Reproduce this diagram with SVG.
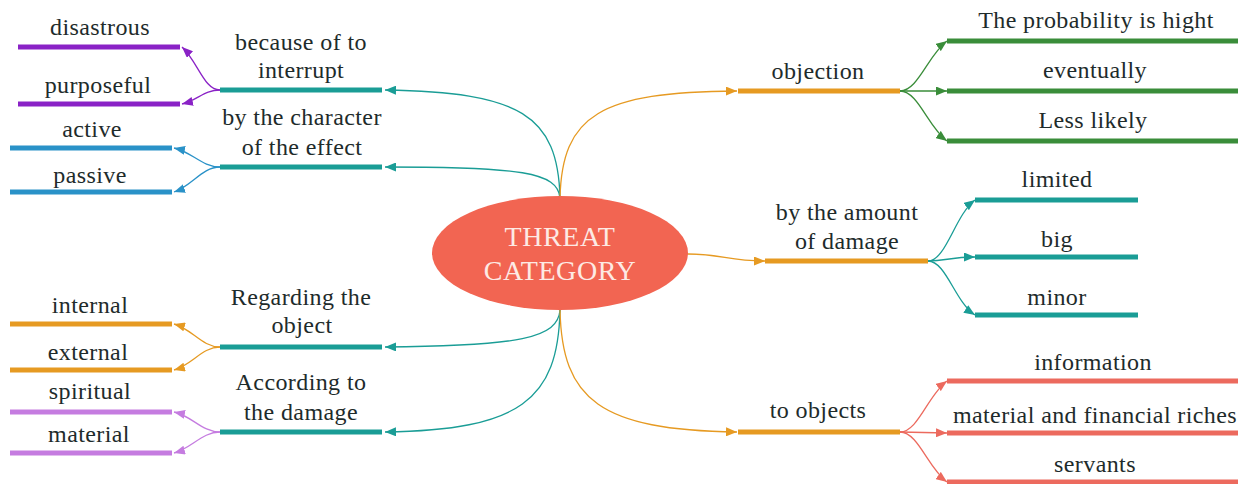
<svg xmlns="http://www.w3.org/2000/svg" width="1238" height="484" viewBox="0 0 1238 484">
<style>
.t{font-family:'Liberation Serif','Times New Roman',serif;font-size:24px;letter-spacing:0.4px;fill:#1e2b2b;text-anchor:middle}
.bar{fill:none;stroke-width:5}
.c{fill:none;stroke-width:1.3}
.teal{stroke:#1a9d96}.orange{stroke:#e69a22}.green{stroke:#3a8d3a}.purple{stroke:#8a22c6}.blue{stroke:#2a92c8}.lilac{stroke:#c57ce0}.red{stroke:#ec6a5e}
</style>
<defs>
<marker id="aTeal" markerUnits="userSpaceOnUse" markerWidth="11" markerHeight="9" refX="11" refY="4.5" orient="auto"><path d="M0,0 L11,4.5 L0,9 z" fill="#1a9d96"/></marker>
<marker id="aOrange" markerUnits="userSpaceOnUse" markerWidth="11" markerHeight="9" refX="11" refY="4.5" orient="auto"><path d="M0,0 L11,4.5 L0,9 z" fill="#e69a22"/></marker>
<marker id="aGreen" markerUnits="userSpaceOnUse" markerWidth="11" markerHeight="9" refX="11" refY="4.5" orient="auto"><path d="M0,0 L11,4.5 L0,9 z" fill="#3a8d3a"/></marker>
<marker id="aPurple" markerUnits="userSpaceOnUse" markerWidth="11" markerHeight="9" refX="11" refY="4.5" orient="auto"><path d="M0,0 L11,4.5 L0,9 z" fill="#8a22c6"/></marker>
<marker id="aBlue" markerUnits="userSpaceOnUse" markerWidth="11" markerHeight="9" refX="11" refY="4.5" orient="auto"><path d="M0,0 L11,4.5 L0,9 z" fill="#2a92c8"/></marker>
<marker id="aLilac" markerUnits="userSpaceOnUse" markerWidth="11" markerHeight="9" refX="11" refY="4.5" orient="auto"><path d="M0,0 L11,4.5 L0,9 z" fill="#c57ce0"/></marker>
<marker id="aRed" markerUnits="userSpaceOnUse" markerWidth="11" markerHeight="9" refX="11" refY="4.5" orient="auto"><path d="M0,0 L11,4.5 L0,9 z" fill="#ec6a5e"/></marker>
</defs>
<rect width="1238" height="484" fill="#ffffff"/>
<g id="connectors">
<path class="c teal" d="M560,198 C558,115 520,92 385,90" marker-end="url(#aTeal)"/>
<path class="c teal" d="M560,198 C558,172 520,167 385,167" marker-end="url(#aTeal)"/>
<path class="c orange" d="M560,198 C562,115 600,92 737,91" marker-end="url(#aOrange)"/>
<path class="c orange" d="M688,254 C722,254 728,261 765,261" marker-end="url(#aOrange)"/>
<path class="c teal" d="M560,310 C558,338 520,346 385,347" marker-end="url(#aTeal)"/>
<path class="c teal" d="M560,310 C558,400 520,430 385,432" marker-end="url(#aTeal)"/>
<path class="c orange" d="M560,310 C562,400 600,430 737,432" marker-end="url(#aOrange)"/>
<path class="c purple" d="M220,90 C204,90 198,62 182,47" marker-end="url(#aPurple)"/>
<path class="c purple" d="M220,90 C204,90 198,100 182,104" marker-end="url(#aPurple)"/>
<path class="c blue" d="M220,167 C202,167 192,152 174,148" marker-end="url(#aBlue)"/>
<path class="c blue" d="M220,167 C202,167 192,186 174,192" marker-end="url(#aBlue)"/>
<path class="c orange" d="M220,347 C202,347 192,329 174,324" marker-end="url(#aOrange)"/>
<path class="c orange" d="M220,347 C202,347 192,365 174,370" marker-end="url(#aOrange)"/>
<path class="c lilac" d="M220,432 C202,432 192,416 174,412" marker-end="url(#aLilac)"/>
<path class="c lilac" d="M220,432 C202,432 192,448 174,453" marker-end="url(#aLilac)"/>
<path class="c green" d="M900,91 C918,91 928,55 947,41" marker-end="url(#aGreen)"/>
<path class="c green" d="M900,91 L947,91" marker-end="url(#aGreen)"/>
<path class="c green" d="M900,91 C918,91 928,127 947,141" marker-end="url(#aGreen)"/>
<path class="c teal" d="M928,261 C946,261 955,215 975,200" marker-end="url(#aTeal)"/>
<path class="c teal" d="M928,261 C946,261 950,257 975,257" marker-end="url(#aTeal)"/>
<path class="c teal" d="M928,261 C946,261 955,302 975,315" marker-end="url(#aTeal)"/>
<path class="c red" d="M900,432 C918,432 928,395 947,381" marker-end="url(#aRed)"/>
<path class="c red" d="M900,432 L947,433" marker-end="url(#aRed)"/>
<path class="c red" d="M900,432 C918,432 928,468 947,482" marker-end="url(#aRed)"/>
</g>
<g id="center">
<ellipse cx="560" cy="253" rx="128" ry="57" fill="#f26552"/>
<text class="t" x="560" y="246" style="fill:#fdeae4;font-size:28px;letter-spacing:0.6px">THREAT</text>
<text class="t" x="560" y="280" style="fill:#fdeae4;font-size:28px;letter-spacing:0.6px">CATEGORY</text>
</g>
<g id="n-interrupt"><line class="bar teal" x1="220" y1="90" x2="382" y2="90"/><text class="t" x="301" y="50">because of to</text><text class="t" x="301" y="78">interrupt</text></g>
<g id="n-character"><line class="bar teal" x1="220" y1="167" x2="382" y2="167"/><text class="t" x="302" y="125">by the character</text><text class="t" x="302" y="155">of the effect</text></g>
<g id="n-regarding"><line class="bar teal" x1="220" y1="347" x2="382" y2="347"/><text class="t" x="301" y="305">Regarding the</text><text class="t" x="302" y="333">object</text></g>
<g id="n-according"><line class="bar teal" x1="220" y1="432" x2="382" y2="432"/><text class="t" x="301" y="390">According to</text><text class="t" x="301" y="420">the damage</text></g>
<g id="n-disastrous"><line class="bar purple" x1="18" y1="47" x2="180" y2="47"/><text class="t" x="100" y="35">disastrous</text></g>
<g id="n-purposeful"><line class="bar purple" x1="18" y1="104" x2="180" y2="104"/><text class="t" x="98" y="93">purposeful</text></g>
<g id="n-active"><line class="bar blue" x1="10" y1="148" x2="172" y2="148"/><text class="t" x="92" y="137">active</text></g>
<g id="n-passive"><line class="bar blue" x1="10" y1="192" x2="172" y2="192"/><text class="t" x="90" y="183">passive</text></g>
<g id="n-internal"><line class="bar orange" x1="10" y1="324" x2="172" y2="324"/><text class="t" x="90" y="313">internal</text></g>
<g id="n-external"><line class="bar orange" x1="10" y1="370" x2="172" y2="370"/><text class="t" x="88" y="360">external</text></g>
<g id="n-spiritual"><line class="bar lilac" x1="10" y1="412" x2="172" y2="412"/><text class="t" x="90" y="399">spiritual</text></g>
<g id="n-material"><line class="bar lilac" x1="10" y1="453" x2="172" y2="453"/><text class="t" x="89" y="442">material</text></g>
<g id="n-objection"><line class="bar orange" x1="738" y1="91" x2="900" y2="91"/><text class="t" x="818" y="79">objection</text></g>
<g id="n-amount"><line class="bar orange" x1="765" y1="261" x2="928" y2="261"/><text class="t" x="847" y="220">by the amount</text><text class="t" x="847" y="249">of damage</text></g>
<g id="n-toobjects"><line class="bar orange" x1="738" y1="432" x2="900" y2="432"/><text class="t" x="818" y="418">to objects</text></g>
<g id="n-high"><line class="bar green" x1="947" y1="41" x2="1238" y2="41"/><text class="t" x="1096" y="28">The probability is hight</text></g>
<g id="n-eventually"><line class="bar green" x1="947" y1="91" x2="1238" y2="91"/><text class="t" x="1095" y="78">eventually</text></g>
<g id="n-less"><line class="bar green" x1="947" y1="141" x2="1238" y2="141"/><text class="t" x="1093" y="128">Less likely</text></g>
<g id="n-limited"><line class="bar teal" x1="975" y1="200" x2="1138" y2="200"/><text class="t" x="1057" y="187">limited</text></g>
<g id="n-big"><line class="bar teal" x1="975" y1="257" x2="1138" y2="257"/><text class="t" x="1057" y="247">big</text></g>
<g id="n-minor"><line class="bar teal" x1="975" y1="315" x2="1138" y2="315"/><text class="t" x="1057" y="305">minor</text></g>
<g id="n-information"><line class="bar red" x1="947" y1="381" x2="1238" y2="381"/><text class="t" x="1093" y="370">information</text></g>
<g id="n-riches"><line class="bar red" x1="947" y1="433" x2="1238" y2="433"/><text class="t" x="1095" y="423">material and financial riches</text></g>
<g id="n-servants"><line class="bar red" x1="947" y1="482" x2="1238" y2="482"/><text class="t" x="1095" y="472">servants</text></g>
</svg>
